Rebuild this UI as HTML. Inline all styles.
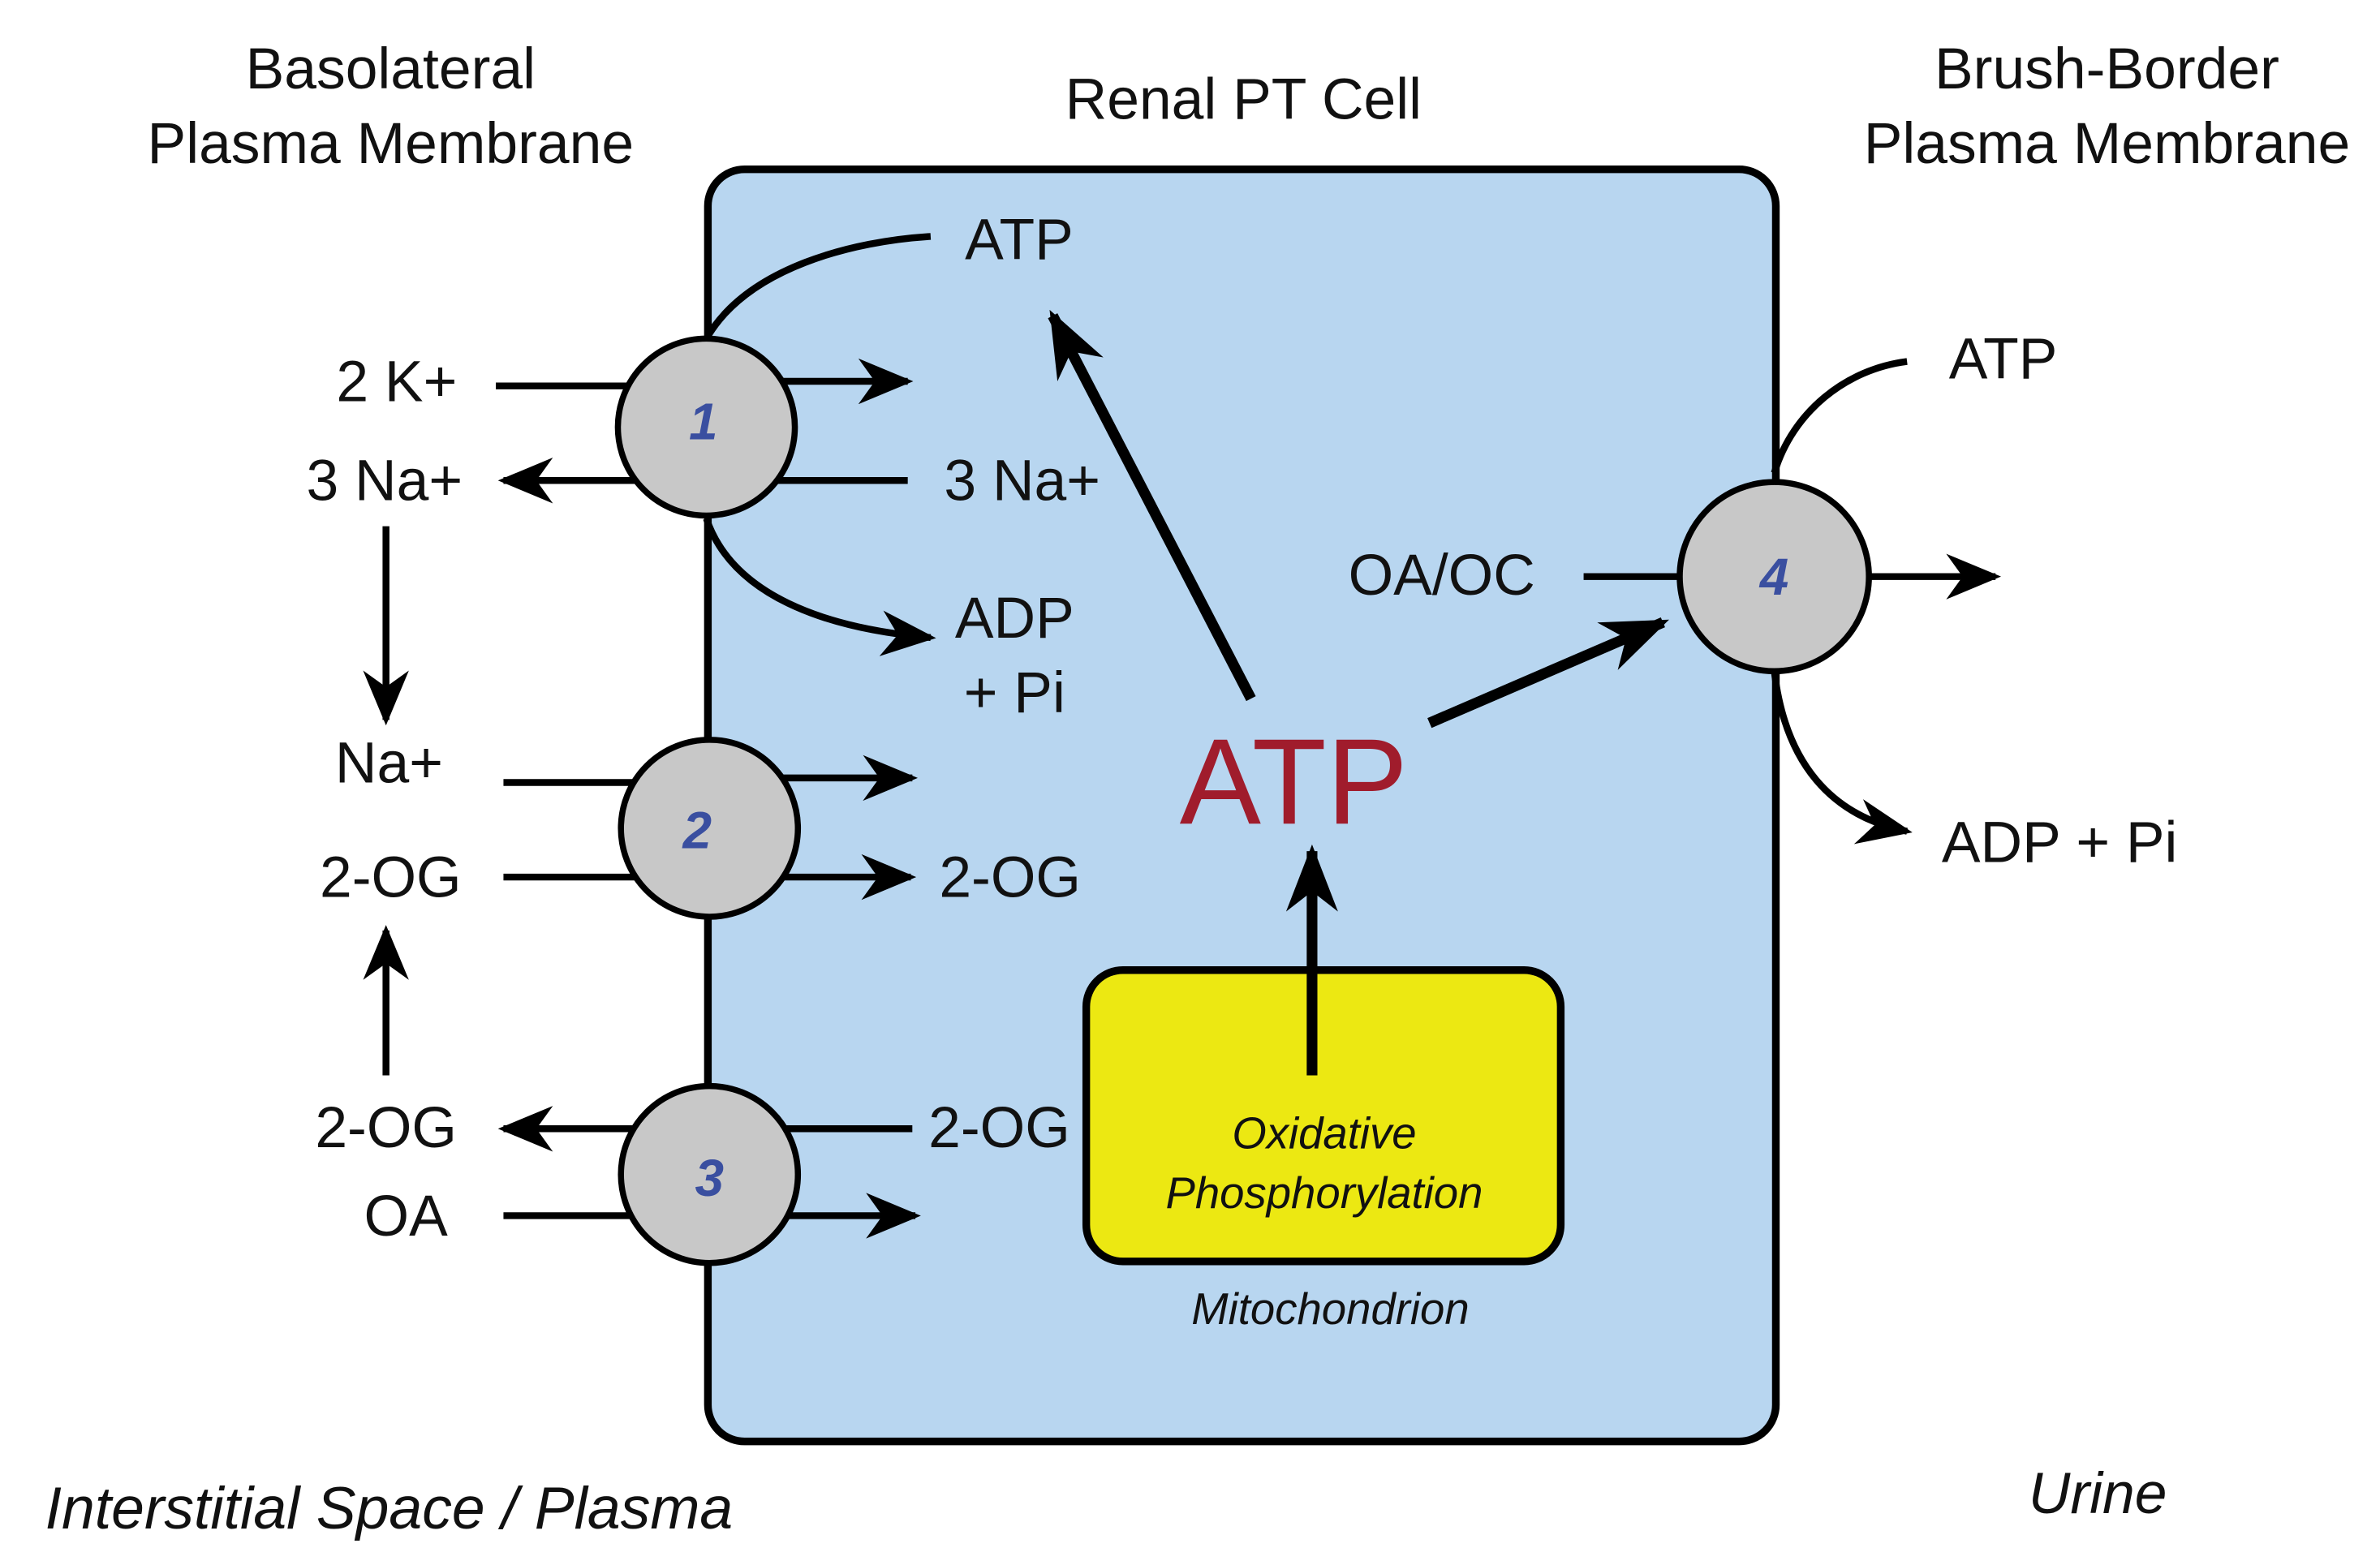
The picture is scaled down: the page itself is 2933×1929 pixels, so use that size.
<!DOCTYPE html>
<html><head><meta charset="utf-8"><style>
html,body{margin:0;padding:0;background:#fff;}
svg{display:block;}
text{font-family:"Liberation Sans",Arial,sans-serif;fill:#111;}
</style></head><body>
<svg width="2933" height="1929" viewBox="0 0 1560 1026" preserveAspectRatio="none" xmlns="http://www.w3.org/2000/svg">
<defs>
<marker id="h" viewBox="0 0 10 10" refX="9" refY="5" markerWidth="36" markerHeight="30" markerUnits="userSpaceOnUse" orient="auto" preserveAspectRatio="none">
<path d="M0,0 L10,5 L0,10 L3,5 z" fill="#000"/>
</marker>
<marker id="hb" viewBox="0 0 10 10" refX="9" refY="5" markerWidth="44" markerHeight="34" markerUnits="userSpaceOnUse" orient="auto" preserveAspectRatio="none">
<path d="M0,0 L10,5 L0,10 L3,5 z" fill="#000"/>
</marker>
</defs>
<rect x="464" y="111" width="700" height="834" rx="24" fill="#b8d6f0" stroke="#000" stroke-width="5"/>
<rect x="712" y="636" width="311" height="191" rx="24" fill="#ece812" stroke="#000" stroke-width="5"/>

<g stroke="#000" stroke-width="4.5" fill="none">
<line x1="325" y1="253" x2="420" y2="253"/>
<line x1="510" y1="250" x2="595" y2="250" marker-end="url(#h)"/>
<line x1="595" y1="315" x2="500" y2="315"/>
<line x1="420" y1="315" x2="330" y2="315" marker-end="url(#h)"/>
<path d="M463,222 C490,175 560,158 610,155"/>
<path d="M463,340 C480,390 540,412 610,418" marker-end="url(#h)"/>
<line x1="253" y1="345" x2="253" y2="472" marker-end="url(#h)"/>
<line x1="330" y1="513" x2="420" y2="513"/>
<line x1="510" y1="510" x2="598" y2="510" marker-end="url(#h)"/>
<line x1="330" y1="575" x2="420" y2="575"/>
<line x1="510" y1="575" x2="597" y2="575" marker-end="url(#h)"/>
<line x1="253" y1="705" x2="253" y2="610" marker-end="url(#h)"/>
<line x1="420" y1="740" x2="330" y2="740" marker-end="url(#h)"/>
<line x1="510" y1="740" x2="598" y2="740"/>
<line x1="330" y1="797" x2="420" y2="797"/>
<line x1="510" y1="797" x2="600" y2="797" marker-end="url(#h)"/>
<line x1="1038" y1="378" x2="1105" y2="378"/>
<line x1="1220" y1="378" x2="1308" y2="378" marker-end="url(#h)"/>
<path d="M1163,310 C1175,270 1210,242 1250,237"/>
<path d="M1163,440 C1170,500 1200,535 1250,545" marker-end="url(#h)"/>
</g>
<g stroke="#000" stroke-width="7" fill="none">
<line x1="820" y1="458" x2="690" y2="207" marker-end="url(#hb)"/>
<line x1="937" y1="474" x2="1090" y2="408" marker-end="url(#hb)"/>
<line x1="860" y1="705" x2="860" y2="558" marker-end="url(#hb)"/>
</g>

<g fill="#c8c8c8" stroke="#000" stroke-width="4">
<circle cx="463" cy="280" r="58"/>
<circle cx="465" cy="543" r="58"/>
<circle cx="465" cy="770" r="58"/>
<circle cx="1163" cy="378" r="62"/>
</g>
<g font-size="34" font-style="italic" font-weight="bold" text-anchor="middle">
<text x="461" y="288" style="fill:#3a4fa0">1</text>
<text x="457" y="556" style="fill:#3a4fa0">2</text>
<text x="465" y="784" style="fill:#3a4fa0">3</text>
<text x="1163" y="390" style="fill:#3a4fa0">4</text>
</g>

<g font-size="38" text-anchor="middle">
<text x="256" y="58">Basolateral</text>
<text x="256" y="107">Plasma Membrane</text>
<text x="815" y="78">Renal PT Cell</text>
<text x="1381" y="58">Brush-Border</text>
<text x="1381" y="107">Plasma Membrane</text>
<text x="260" y="263">2 K+</text>
<text x="252" y="328">3 Na+</text>
<text x="255" y="513">Na+</text>
<text x="256" y="588">2-OG</text>
<text x="253" y="752">2-OG</text>
<text x="266" y="810">OA</text>
<text x="668" y="170">ATP</text>
<text x="670" y="328">3 Na+</text>
<text x="665" y="418">ADP</text>
<text x="665" y="467">+ Pi</text>
<text x="662" y="588">2-OG</text>
<text x="655" y="752">2-OG</text>
<text x="945" y="390">OA/OC</text>
<text x="1313" y="248">ATP</text>
<text x="1350" y="565">ADP + Pi</text>
</g>
<text x="848" y="540" font-size="80" text-anchor="middle" style="fill:#a01c2c">ATP</text>
<g font-style="italic" text-anchor="middle">
<text x="868" y="753" font-size="29">Oxidative</text>
<text x="868" y="792" font-size="29">Phosphorylation</text>
<text x="872" y="868" font-size="29">Mitochondrion</text>
<text x="255" y="1002" font-size="39">Interstitial Space / Plasma</text>
<text x="1375" y="992" font-size="38">Urine</text>
</g>
</svg>
</body></html>
